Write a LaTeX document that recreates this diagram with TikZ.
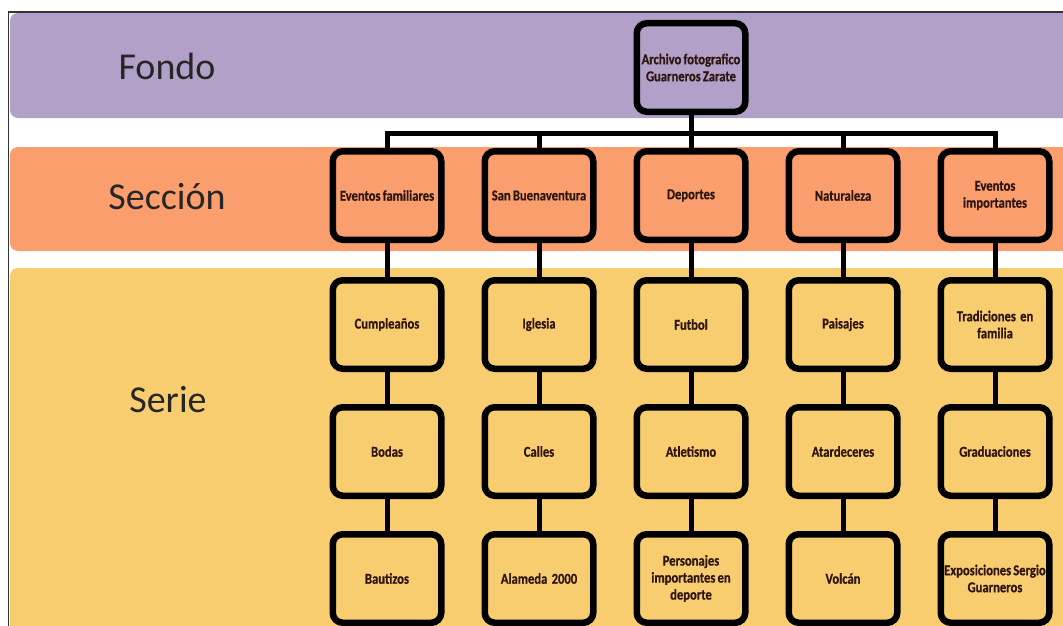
\documentclass[tikz,border=0pt]{standalone}
\usepackage{fontspec}
\setmainfont{Carlito}
\newfontfamily\cajafont[FakeStretch=0.84, FakeBold=0.6, WordSpace=0.75]{Carlito Bold}
\usepackage{tikz}
\usetikzlibrary{positioning}
\definecolor{fondocol}{HTML}{B1A1C8}
\definecolor{seccol}{HTML}{F99E6C}
\definecolor{seriecol}{HTML}{F8CD6F}
\definecolor{textocol}{HTML}{2E1510}
\tikzset{
  caja/.style={draw=black, line width=6.5pt, rounded corners=10pt, minimum width=108.5pt, minimum height=88.5pt,
    align=center, inner sep=1pt, text=textocol,
    font=\cajafont\fontsize{15}{17}\selectfont},
  banda/.style={rounded corners=8pt},
  rotulo/.style={font=\fontsize{38}{44}\selectfont, text=black!85},
  linea/.style={line width=5pt}
}

\begin{document}
\begin{tikzpicture}[x=1pt, y=-1pt]
            \useasboundingbox (0,0) rectangle (1063,626);
            \clip (0,0) rectangle (1063,626);
            \fill[white] (0,0) rectangle (1063,626);
            \fill[fondocol, banda] (10,13) rectangle (1080,118);
            \fill[seccol, banda] (10,147) rectangle (1080,251);
            \fill[seriecol, banda] (10,268) rectangle (1080,640);
            \draw[black!80, line width=1.3pt] (8.5,626) -- (8.5,12) -- (1063,12);

            \node[rotulo] at (167,66) (fondo) {Fondo};
            \node[rotulo] at (167,197) (seccion) {Sección};
            \node[rotulo] at (168,400) (serie) {Serie};

            \node[caja, fill=fondocol] at (691,67.5) (archivo) {Archivo fotografico\\Guarneros Zarate};

            \node[caja, fill=seccol] at (387,195.5) (familiares) {Eventos familiares};
            \node[caja, fill=seccol, right=37pt of familiares] (buenaventura) {San Buenaventura};
            \node[caja, fill=seccol, right=37pt of buenaventura] (deportes) {Deportes};
            \node[caja, fill=seccol, right=37pt of deportes] (naturaleza) {Naturaleza};
            \node[caja, fill=seccol, right=37pt of naturaleza] (importantes) {Eventos\\importantes};

            \node[caja, fill=seriecol, below=34pt of familiares] (cumple) {Cumpleaños};
            \node[caja, fill=seriecol, below=32pt of cumple] (bodas) {Bodas};
            \node[caja, fill=seriecol, below=32pt of bodas] (bautizos) {Bautizos};

            \node[caja, fill=seriecol, below=34pt of buenaventura] (iglesia) {Iglesia};
            \node[caja, fill=seriecol, below=32pt of iglesia] (calles) {Calles};
            \node[caja, fill=seriecol, below=32pt of calles] (alameda) {Alameda\ \ 2000};

            \node[caja, fill=seriecol, below=34pt of deportes] (futbol) {Futbol};
            \node[caja, fill=seriecol, below=32pt of futbol] (atletismo) {Atletismo};
            \node[caja, fill=seriecol, below=32pt of atletismo] (personajes) {Personajes\\importantes en\\deporte};

            \node[caja, fill=seriecol, below=34pt of naturaleza] (paisajes) {Paisajes};
            \node[caja, fill=seriecol, below=32pt of paisajes] (atardeceres) {Atardeceres};
            \node[caja, fill=seriecol, below=32pt of atardeceres] (volcan) {Volcán};

            \node[caja, fill=seriecol, below=34pt of importantes] (tradiciones) {Tradiciones\ \ en\\familia};
            \node[caja, fill=seriecol, below=32pt of tradiciones] (graduaciones) {Graduaciones};
            \node[caja, fill=seriecol, below=32pt of graduaciones] (exposiciones) {\makebox[100pt]{Exposiciones Sergio}\\Guarneros};

            \coordinate (bus) at (0,133);
            \draw[linea] (archivo) -- (deportes);
            \draw[linea] (familiares.north) -- (familiares.north |- bus) -- (importantes.north |- bus) -- (importantes.north);
            \draw[linea] (buenaventura.north) -- (buenaventura.north |- bus);
            \draw[linea] (naturaleza.north) -- (naturaleza.north |- bus);

            \draw[linea] (familiares) -- (cumple) -- (bodas) -- (bautizos);
            \draw[linea] (buenaventura) -- (iglesia) -- (calles) -- (alameda);
            \draw[linea] (deportes) -- (futbol) -- (atletismo) -- (personajes);
            \draw[linea] (naturaleza) -- (paisajes) -- (atardeceres) -- (volcan);
            \draw[linea] (importantes) -- (tradiciones) -- (graduaciones) -- (exposiciones);
        \end{tikzpicture}
\end{document}
